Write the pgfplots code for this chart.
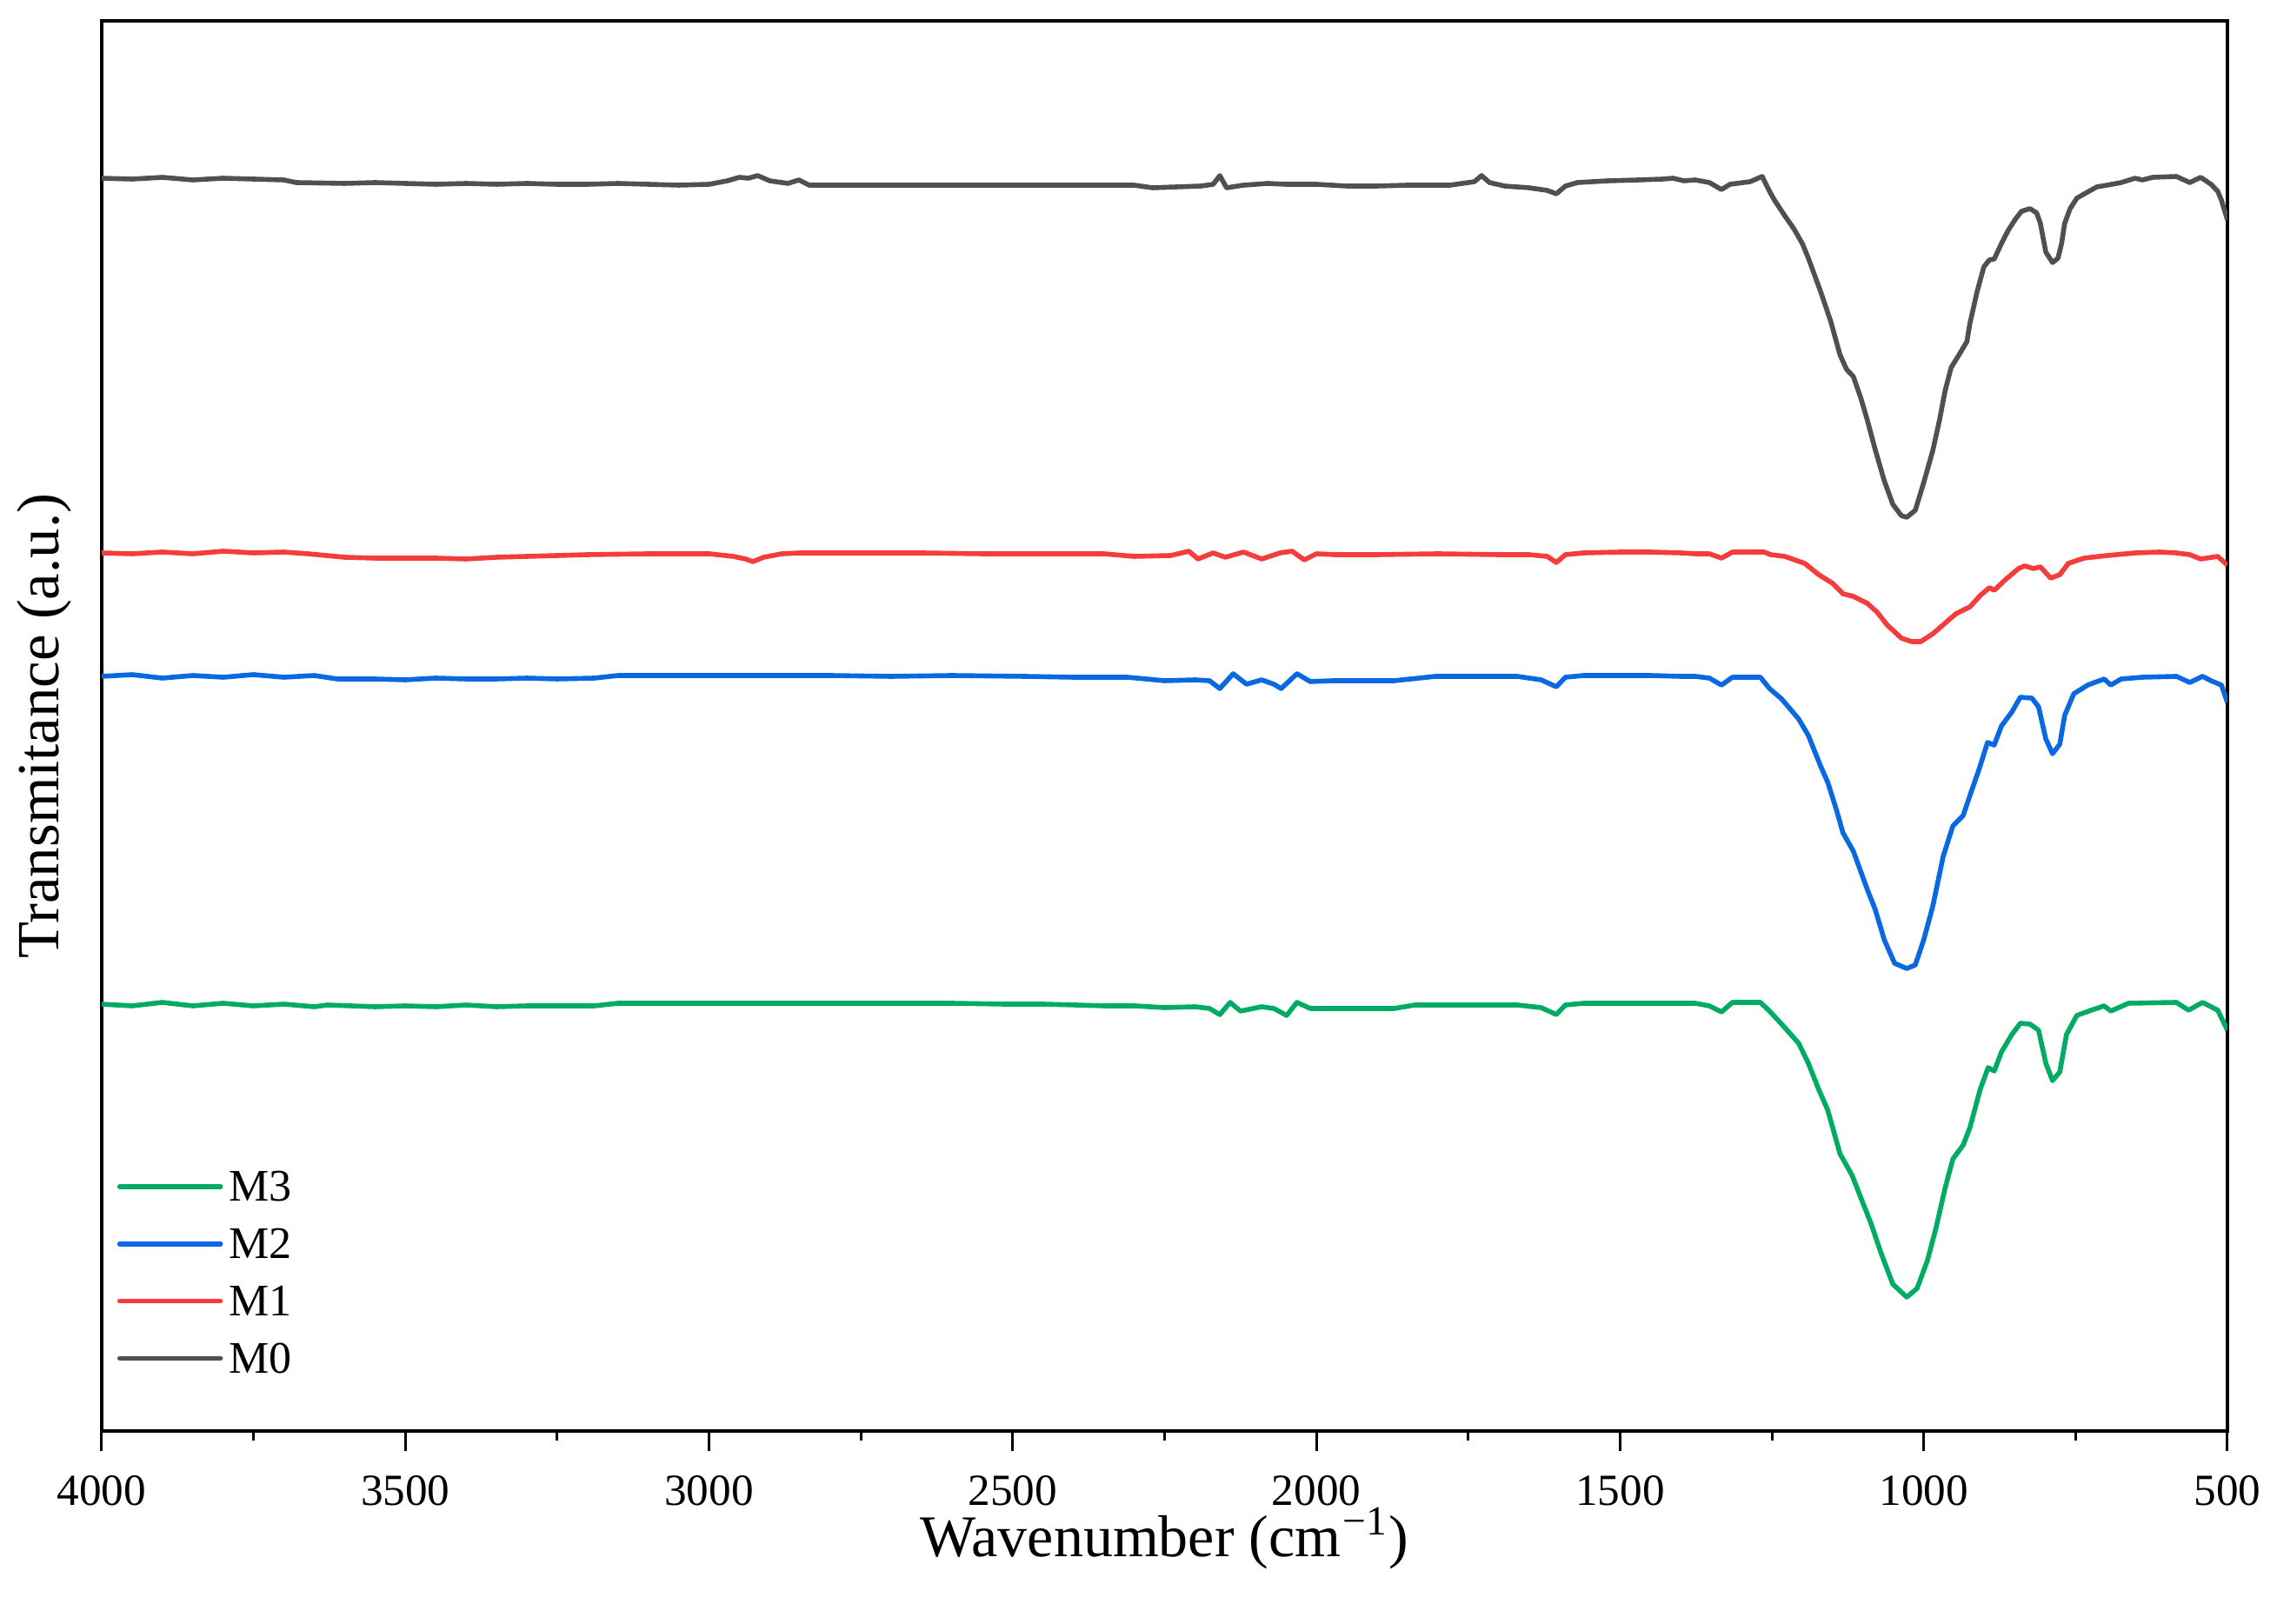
\documentclass[border=0pt]{standalone}
\usepackage{fontspec}
\setmainfont{Liberation Serif}
\usepackage{pgfplots}
\pgfplotsset{compat=1.18}
\definecolor{cM0}{RGB}{80,80,80}
\definecolor{cM1}{RGB}{245,60,60}
\definecolor{cM2}{RGB}{10,105,225}
\definecolor{cM3}{RGB}{0,172,100}
\begin{document}
\begin{tikzpicture}
\path[use as bounding box] (-29.25bp,-55.5bp) rectangle (625.5bp,411.5bp);
\begin{axis}[
  at={(0,0)}, anchor=south west,
  scale only axis, width=611.25bp, height=405.5bp,
  xmin=500, xmax=4000, x dir=reverse,
  ymin=0, ymax=1622,
  ytick=\empty,
  xtick={500,1000,...,4000},
  minor x tick num=1,
  xtick pos=bottom,
  tick align=outside,
  major tick length=5.75bp, minor tick length=2.75bp,
  every tick/.style={line width=0.75bp, black},
  axis line style={line width=0.8bp, black},
  /pgf/number format/assume math mode=true,
  /pgf/number format/1000 sep={},
  xticklabel style={font=\fontsize{12.8bp}{14bp}\selectfont, anchor=north, inner sep=0pt, text height=8.5bp, text depth=0pt, yshift=-6.9bp},
  xlabel={Wavenumber (cm\kern0.6bp\textsuperscript{−1})},
  ylabel={Transmitance (a.u.)},
  xlabel style={font=\fontsize{17bp}{20bp}\selectfont, at={(axis description cs:0.5,-0.0760)}, anchor=center, inner sep=0pt},
  ylabel style={font=\fontsize{17.2bp}{20bp}\selectfont, at={(axis description cs:-0.0270,0.5)}, anchor=center, inner sep=0pt},
  legend style={at={(0.007,0.1856)}, anchor=north west, draw=none, fill=none, inner sep=0pt,
    row sep=7.45bp, column sep=1.8bp, font=\fontsize{13bp}{15bp}\selectfont,
    nodes={inner sep=0pt, text height=9bp, text depth=0pt}},
  legend cell align=left,
  legend image code/.code={\draw[#1, line cap=round] (0bp,-0.3bp) -- (29bp,-0.3bp);},
  every axis plot/.append style={line width=1.4bp, line join=round},
]
% M3 (green)
\addplot[cM3] table {
4000 491
3950 489
3900 493
3850 489
3800 492
3750 489
3700 491
3650 488
3628 490
3550 488
3500 489
3450 488
3400 490
3350 488
3300 489
3250 489
3189 489
3150 492
3000 492
2900 492
2800 492
2700 492
2600 492
2514 491
2450 491
2396 490
2350 489
2300 489
2250 487
2200 488
2176 486
2159 479
2142 493
2125 483
2090 488
2070 486
2049 478
2032 493
2010 486
1973 486
1920 486
1872 486
1838 490
1750 490
1669 490
1630 487
1605 479
1590 490
1560 492
1500 492
1450 492
1400 492
1376 492
1353 489
1333 482
1315 493
1269 493
1254 483
1234 468
1206 446
1190 423
1173 393
1158 369
1138 319
1118 294
1104 269
1087 239
1071 206
1051 169
1028 154
1011 164
994 196
980 233
965 279
952 313
935 329
924 349
907 393
894 418
884 414
872 436
855 456
841 469
825 468
811 461
799 423
788 403
776 413
765 456
748 478
720 485
703 489
692 483
663 492
584 493
564 484
541 493
516 484
500 461
};
\addlegendentry{M3}
% M2 (blue)
\addplot[cM2] table {
4000 868
3950 870
3900 866
3850 869
3800 867
3750 870
3700 867
3650 869
3612 865
3550 865
3500 864
3450 866
3400 865
3350 865
3300 866
3250 865
3189 866
3150 869
3000 869
2900 869
2800 869
2700 868
2600 869
2480 868
2400 867
2311 867
2250 863
2200 864
2176 863
2159 854
2137 871
2115 859
2090 864
2070 859
2058 854
2032 871
2010 862
1973 863
1920 863
1872 863
1804 868
1750 868
1669 868
1630 864
1605 856
1590 867
1560 869
1500 869
1450 869
1400 868
1376 868
1353 866
1333 858
1315 867
1269 867
1254 854
1234 842
1206 819
1190 800
1170 765
1158 746
1144 715
1133 688
1116 667
1093 623
1080 600
1065 565
1048 538
1028 532
1014 536
1000 565
985 604
968 661
952 696
935 708
924 731
909 761
895 792
884 789
872 811
855 827
841 844
822 843
811 833
799 796
788 779
776 790
768 823
753 848
730 858
703 865
692 858
675 865
640 867
584 868
562 861
541 868
527 863
510 858
500 838
};
\addlegendentry{M2}
% M1 (red)
\addplot[cM1] table {
4000 1010
3950 1009
3900 1011
3850 1009
3800 1012
3750 1010
3700 1011
3660 1009
3600 1005
3550 1004
3500 1004
3450 1004
3400 1003
3350 1005
3300 1006
3250 1007
3200 1008
3100 1009
3000 1009
2960 1006
2940 1003
2928 1000
2910 1005
2880 1009
2850 1010
2750 1010
2650 1010
2550 1009
2450 1009
2350 1009
2300 1006
2240 1007
2210 1012
2195 1003
2170 1010
2150 1005
2120 1011
2090 1003
2060 1010
2040 1012
2020 1002
2000 1009
1970 1008
1900 1008
1800 1009
1700 1008
1650 1008
1620 1006
1605 999
1590 1008
1560 1010
1500 1011
1450 1011
1400 1010
1376 1009
1353 1009
1333 1004
1315 1011
1263 1011
1252 1008
1229 1006
1196 998
1173 985
1150 975
1133 963
1116 960
1093 952
1077 942
1060 927
1037 912
1020 908
1005 908
985 917
962 931
947 940
924 948
907 961
892 970
884 967
866 979
844 992
834 995
819 992
808 994
791 981
776 985
762 998
736 1004
698 1007
652 1010
612 1011
584 1010
562 1008
544 1003
516 1006
500 996
};
\addlegendentry{M1}
% M0 (grey)
\addplot[cM0] table {
4000 1441
3950 1440
3900 1442
3850 1439
3800 1441
3750 1440
3700 1439
3680 1436
3600 1435
3550 1436
3500 1435
3450 1434
3400 1435
3350 1434
3300 1435
3250 1434
3200 1434
3150 1435
3100 1434
3050 1433
3000 1434
2970 1438
2950 1442
2935 1441
2920 1444
2900 1438
2870 1435
2852 1439
2835 1433
2780 1433
2700 1433
2600 1433
2500 1433
2400 1433
2300 1433
2270 1430
2230 1431
2190 1432
2170 1434
2159 1444
2148 1430
2120 1433
2080 1435
2050 1434
2000 1434
1950 1432
1900 1432
1850 1433
1780 1433
1740 1437
1728 1444
1715 1436
1690 1432
1650 1430
1620 1427
1605 1423
1590 1432
1570 1436
1520 1438
1470 1439
1430 1440
1413 1441
1395 1438
1376 1439
1353 1436
1333 1428
1319 1434
1286 1437
1266 1443
1254 1426
1246 1416
1229 1398
1214 1383
1200 1366
1190 1349
1170 1311
1153 1276
1138 1238
1127 1221
1116 1213
1104 1189
1093 1163
1080 1129
1065 1093
1051 1066
1037 1053
1028 1051
1014 1059
1000 1091
985 1128
974 1163
965 1196
955 1223
941 1239
929 1253
924 1274
912 1311
901 1339
892 1347
884 1348
872 1366
861 1381
849 1394
839 1403
825 1406
814 1401
808 1389
799 1356
788 1344
779 1349
773 1366
768 1389
759 1406
748 1418
733 1424
715 1431
698 1433
675 1436
652 1441
640 1439
623 1442
584 1443
562 1436
544 1442
527 1434
516 1426
510 1416
500 1393
};
\addlegendentry{M0}
\end{axis}
\end{tikzpicture}
\end{document}
